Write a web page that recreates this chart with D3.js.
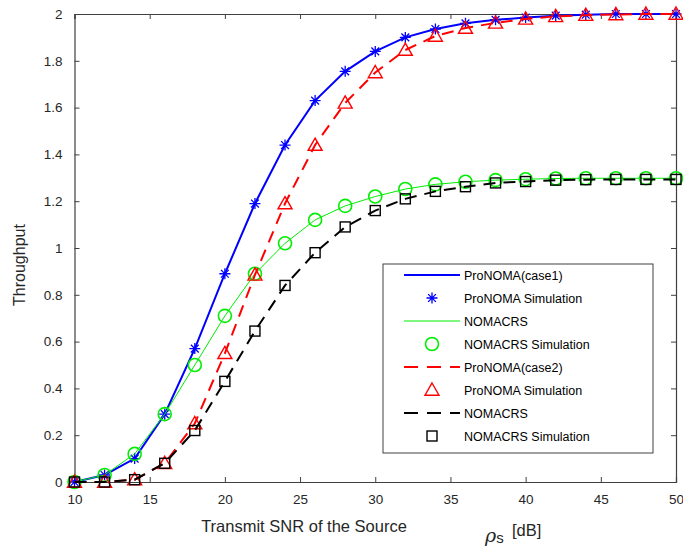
<!DOCTYPE html>
<html>
<head>
<meta charset="utf-8">
<script src="https://cdn.jsdelivr.net/npm/d3@7"></script>
<style>
  body { margin: 0; background: #fff; }
  svg { font-family: "Liberation Sans", Arial, sans-serif; }
</style>
</head>
<body>
<svg id="vis" width="683" height="547"></svg>
<script>
// data
let snr = [10, 12, 14, 16, 18, 20, 22, 24, 26, 28, 30, 32, 34, 36, 38, 40, 42, 44, 46, 48, 50];
let proCase1 = [0, 0.03, 0.10, 0.29, 0.57, 0.89, 1.19, 1.44, 1.63, 1.755, 1.84, 1.90, 1.936, 1.96, 1.975, 1.985, 1.993, 1.997, 2.0, 2.0, 2.0];
let nomaCrs1 = [0, 0.03, 0.12, 0.29, 0.50, 0.71, 0.89, 1.02, 1.12, 1.18, 1.22, 1.252, 1.272, 1.283, 1.29, 1.294, 1.297, 1.298, 1.298, 1.298, 1.298];
let proCase2 = [0, 0, 0.01, 0.08, 0.25, 0.55, 0.885, 1.19, 1.44, 1.62, 1.75, 1.846, 1.906, 1.94, 1.962, 1.979, 1.99, 1.995, 1.998, 2.0, 2.0];
let nomaCrs2 = [0, 0, 0.01, 0.08, 0.22, 0.43, 0.645, 0.84, 0.98, 1.09, 1.16, 1.21, 1.242, 1.262, 1.278, 1.284, 1.29, 1.292, 1.293, 1.293, 1.293];
let xTicks = [10, 15, 20, 25, 30, 35, 40, 45, 50];
let yTicks = [0, 0.2, 0.4, 0.6, 0.8, 1, 1.2, 1.4, 1.6, 1.8, 2];
let legendNames = ["ProNOMA(case1)", "ProNOMA Simulation", "NOMACRS", "NOMACRS Simulation",
                   "ProNOMA(case2)", "ProNOMA Simulation", "NOMACRS", "NOMACRS Simulation"];

let svg = d3.select("#vis");
let margin = {top: 14, right: 7, bottom: 65, left: 74.5};
let plotWidth = 683 - margin.left - margin.right;
let plotHeight = 547 - margin.top - margin.bottom;

let x = d3.scaleLinear().domain([10, 50]).range([0, plotWidth]);
let y = d3.scaleLinear().domain([0, 2]).range([plotHeight, 0]);

let plot = svg.append("g")
  .attr("transform", "translate(" + margin.left + "," + margin.top + ")");

let axisColor = "#404040";

// axes, matlab style: ticks inward, box on
let xAxis = d3.axisBottom(x).tickValues(xTicks).tickSize(-5).tickPadding(12).tickFormat(d3.format("d"));
let yAxis = d3.axisLeft(y).tickValues(yTicks).tickSize(-5).tickPadding(12).tickFormat(d => d === 0 ? "0" : d3.format("~g")(d));
let xTop = d3.axisTop(x).tickValues(xTicks).tickSize(-5).tickFormat("");
let yRight = d3.axisRight(y).tickValues(yTicks).tickSize(-5).tickFormat("");

plot.append("g").attr("transform", "translate(0," + plotHeight + ")").call(xAxis);
plot.append("g").call(yAxis);
plot.append("g").call(xTop);
plot.append("g").attr("transform", "translate(" + plotWidth + ",0)").call(yRight);

plot.selectAll(".domain").attr("stroke", axisColor).attr("stroke-width", 1.2);
plot.selectAll(".tick line").attr("stroke", axisColor);
plot.selectAll(".tick text").attr("fill", "#262626").style("font-size", "13.5px");

// lines + markers
let lineFunction = d3.line()
  .x(function(d, i) { return x(snr[i]); })
  .y(function(d) { return y(d); });

function drawMarkers(values, type, color) {
  let g = plot.append("g");
  values.forEach(function(v, i) {
    drawSymbol(g, type, color, x(snr[i]), y(v));
  });
}

function drawSymbol(g, type, color, cx, cy) {
  if (type === "star") {
    let r = 5.5;
    let p = "";
    [0, 45, 90, 135].forEach(function(a) {
      let rad = a * Math.PI / 180;
      p += "M" + (cx - r * Math.cos(rad)) + "," + (cy - r * Math.sin(rad)) +
           "L" + (cx + r * Math.cos(rad)) + "," + (cy + r * Math.sin(rad));
    });
    g.append("path").attr("d", p).attr("stroke", color).attr("stroke-width", 1.3).attr("fill", "none");
  } else if (type === "circle") {
    g.append("circle").attr("cx", cx).attr("cy", cy).attr("r", 6.5)
      .attr("stroke", color).attr("stroke-width", 1.6).attr("fill", "none");
  } else if (type === "triangle") {
    let s = 7;
    g.append("path")
      .attr("d", "M" + cx + "," + (cy - s) + "L" + (cx + s) + "," + (cy + s * 0.75) + "L" + (cx - s) + "," + (cy + s * 0.75) + "Z")
      .attr("stroke", color).attr("stroke-width", 1.4).attr("fill", "none");
  } else if (type === "square") {
    let h = 5;
    g.append("rect").attr("x", cx - h).attr("y", cy - h).attr("width", 2 * h).attr("height", 2 * h)
      .attr("stroke", color).attr("stroke-width", 1.4).attr("fill", "none");
  }
}

let series = [
  {values: proCase1, color: "#0000ff", width: 2, dash: null, marker: "star"},
  {values: nomaCrs1, color: "#00ee00", width: 1, dash: null, marker: "circle"},
  {values: proCase2, color: "#ff0000", width: 2, dash: "12,8", marker: "triangle"},
  {values: nomaCrs2, color: "#000000", width: 2, dash: "12,8", marker: "square"}
];

series.forEach(function(s) {
  plot.append("path")
    .attr("d", lineFunction(s.values))
    .attr("stroke", s.color)
    .attr("stroke-width", s.width)
    .attr("stroke-dasharray", s.dash)
    .attr("fill", "none");
  drawMarkers(s.values, s.marker, s.color);
});

// axis titles
svg.append("text")
  .attr("x", 304).attr("y", 532)
  .style("font-size", "16.5px").style("text-anchor", "middle").attr("fill", "#262626")
  .text("Transmit SNR of the Source");
let rho = svg.append("text").attr("x", 485).attr("y", 542).attr("fill", "#262626");
rho.append("tspan").style("font-family", "'DejaVu Serif', serif").style("font-style", "italic").style("font-size", "19px").text("ρ");
rho.append("tspan").attr("dy", 1).style("font-size", "15px").text("s");
svg.append("text")
  .attr("x", 512).attr("y", 536)
  .style("font-size", "16.5px").attr("fill", "#262626")
  .text("[dB]");
svg.append("text")
  .attr("transform", "translate(25,265) rotate(-90)")
  .style("font-size", "16px").style("text-anchor", "middle").attr("fill", "#262626")
  .text("Throughput");

// legend
let legendX = 383, legendY = 264, legendW = 270, legendH = 189;
let legend = svg.append("g");
legend.append("rect")
  .attr("x", legendX).attr("y", legendY).attr("width", legendW).attr("height", legendH)
  .attr("fill", "#fff").attr("stroke", axisColor).attr("stroke-width", 1);

legendNames.forEach(function(name, i) {
  let s = series[Math.floor(i / 2)];
  let ry = legendY + 11 + i * 23;
  if (i % 2 === 0) {
    legend.append("line")
      .attr("x1", 404).attr("x2", 460).attr("y1", ry).attr("y2", ry)
      .attr("stroke", s.color).attr("stroke-width", s.width)
      .attr("stroke-dasharray", s.dash ? "14,9" : null);
  } else {
    drawSymbol(legend, s.marker, s.color, 432, ry);
  }
  legend.append("text")
    .attr("x", 464).attr("y", ry + 4.5)
    .style("font-size", "12.5px").attr("fill", "#000")
    .text(name);
});
</script>
</body>
</html>
